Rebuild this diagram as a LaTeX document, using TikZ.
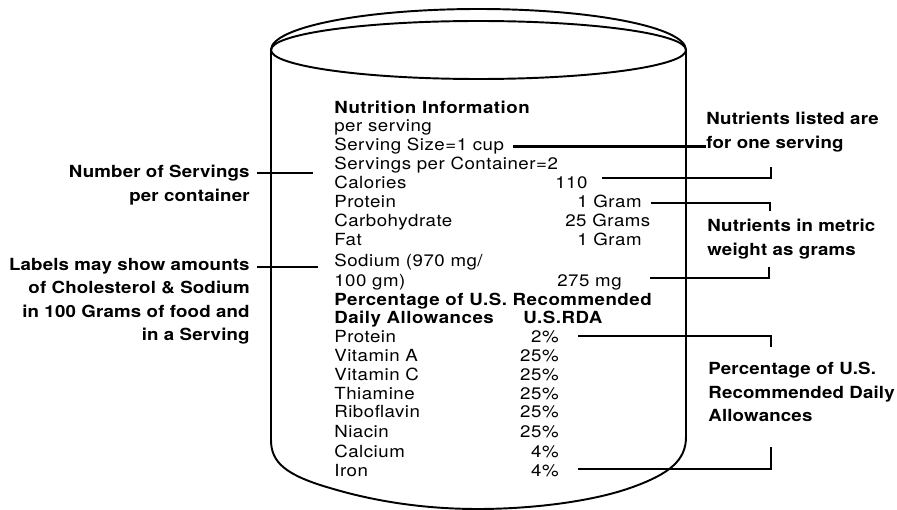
\documentclass[tikz,border=0pt]{standalone}
\usepackage{fontspec}
\setmainfont{TeX Gyre Heros}[FakeStretch=1.12,LetterSpace=3.0]
\newfontfamily\sidefamily{TeX Gyre Heros}[FakeStretch=1.12,LetterSpace=1.0]
\usetikzlibrary{positioning}

\newcommand{\canfont}{\fontsize{9.5}{11}\selectfont}
\newcommand{\canbold}{\fontsize{9.5}{11}\selectfont\bfseries}
\newcommand{\sidefont}{\sidefamily\fontsize{9.5}{13.3}\selectfont\bfseries}

\tikzset{
  can/.style={line width=1.1pt},
  leader/.style={line width=1.4pt},
  row/.style={anchor=base west,inner sep=0pt,font=\canfont},
  amount/.style={anchor=base west,inner sep=0pt,font=\canfont},
  pct/.style={anchor=base east,inner sep=0pt,font=\canfont},
  head/.style={anchor=base west,inner sep=0pt,font=\canbold},
  sidenote/.style={inner sep=0pt,font=\sidefont}
}

\begin{document}
\begin{tikzpicture}[x=0.02cm,y=-0.02cm]
\useasboundingbox (0,0) rectangle (897,510);

%---------------------------The Can------------------------------%
\draw[can] (271,50) -- (271,440)
  .. controls (271,462) and (285,475) .. (330,488)
  .. controls (380,503) and (430,509) .. (478,509)
  .. controls (530,509) and (590,502) .. (630,488)
  .. controls (670,474) and (686,460) .. (686,437)
  -- (686,50) arc[start angle=0,end angle=-180,x radius=207.5,y radius=41];
\draw[can] (478.5,50) ellipse [x radius=207.5,y radius=29];
%----------------------------------------------------------------%

%---------------------------Label Text---------------------------%
\node[head] (ttl) at (334,114) {Nutrition Information};
\node[row] (psv) at (334,132) {per serving};
\node[row] (ssz) at (334,151) {Serving Size=1 cup};
\node[row] (spc) at (334,170) {Servings per Container=2};
\node[row] (cal) at (334,189) {Calories};
\node[row] (prt) at (334,208) {Protein};
\node[row] (crb) at (334,227) {Carbohydrate};
\node[row] (fat) at (334,246) {Fat};
\node[row] (sod) at (334,267) {Sodium (970 mg/};
\node[row] (sdg) at (334,287) {100 gm)};
\node[head] (pus) at (334,305) {Percentage of U.S. Recommended};
\node[head] (dal) at (334,323) {Daily Allowances};
\node[head] (rda) at (523,323) {U.S.RDA};
\node[row] (rpr) at (334,342) {Protein};
\node[row] (vta) at (334,361) {Vitamin A};
\node[row] (vtc) at (334,380) {Vitamin C};
\node[row] (thi) at (334,399) {Thiamine};
\node[row] (rib) at (334,418) {Riboflavin};
\node[row] (nia) at (334,437) {Niacin};
\node[row] (clc) at (334,457) {Calcium};
\node[row] (irn) at (334,476) {Iron};

%-------------------Amounts-------------------------%
\node[amount] (calv) at (555,189) {110};
\node[amount] (prtv) at (577,208) {1 Gram};
\node[amount] (crbv) at (565,227) {25 Grams};
\node[amount] (fatv) at (577,246) {1 Gram};
\node[amount] (sodv) at (557,287) {275 mg};

%-------------------Percentages---------------------%
\node[pct] (rprv) at (559,342) {2\%};
\node[pct] (vtav) at (559,361) {25\%};
\node[pct] (vtcv) at (559,380) {25\%};
\node[pct] (thiv) at (559,399) {25\%};
\node[pct] (ribv) at (559,418) {25\%};
\node[pct] (niav) at (559,437) {25\%};
\node[pct] (clcv) at (559,457) {4\%};
\node[pct] (irnv) at (559,476) {4\%};
%----------------------------------------------------------------%

%---------------------------Side Notes---------------------------%
\node[sidenote,anchor=north east,align=right] (nsv) at (250,165) {Number of Servings\\per container};
\node[sidenote,anchor=north east,align=right] (lbl) at (250,258) {Labels may show amounts\\of Cholesterol \& Sodium\\in 100 Grams of food and\\in a Serving};
\node[sidenote,anchor=north west,align=left] (nls) at (706,112) {Nutrients listed are\\for one serving};
\node[sidenote,anchor=north west,align=left] (nmw) at (707,219) {Nutrients in metric\\weight as grams};
\node[sidenote,anchor=north west,align=left] (rdn) at (708,362) {Percentage of U.S.\\Recommended Daily\\Allowances};
%----------------------------------------------------------------%

%---------------------------Leaders------------------------------%
\coordinate (nsc) at (313,173);
\coordinate (lbc) at (318,267);
\coordinate (calb) at (771,178);
\coordinate (calt) at (771,167);
\coordinate (prtb) at (770,203);
\coordinate (prtt) at (770,211);
\coordinate (sodb) at (769,278);
\coordinate (sodt) at (769,267);
\coordinate (rprb) at (771,336);
\coordinate (rprt) at (771,347);
\coordinate (irnb) at (771,469);
\coordinate (irnt) at (771,447);

\draw[leader,shorten <=4pt] (nsv.east |- nsc) -- (nsc);
\draw[leader,shorten <=4pt] (lbl.east |- lbc) -- (lbc);
\draw[leader,shorten <=5pt] (ssz.east) -- (ssz.east -| nls.west);
\draw[leader,shorten <=8pt] (calv.east |- calb) -- (calb) -- (calt);
\draw[leader,shorten <=5pt] (prtv.east |- prtb) -- (prtb) -- (prtt);
\draw[leader,shorten <=16pt] (sodv.east |- sodb) -- (sodb) -- (sodt);
\draw[leader,shorten <=11pt] (rprv.east |- rprb) -- (rprb) -- (rprt);
\draw[leader,shorten <=11pt] (irnv.east |- irnb) -- (irnb) -- (irnt);
\end{tikzpicture}
\end{document}
